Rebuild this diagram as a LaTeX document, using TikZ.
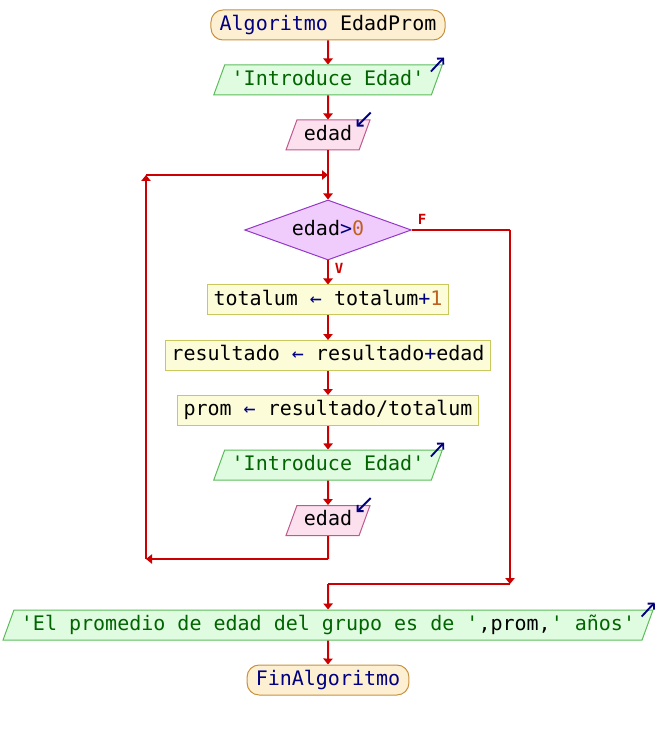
\documentclass[tikz,border=0pt]{standalone}
\usepackage{fontspec}
\setmonofont{DejaVu Sans Mono}
\usetikzlibrary{shapes.geometric,arrows.meta}

\definecolor{flujo}{HTML}{CC0000}
\definecolor{iniFill}{HTML}{FDF0D2}
\definecolor{iniDraw}{HTML}{C8903C}
\definecolor{salFill}{HTML}{E0FCE0}
\definecolor{salDraw}{HTML}{5CBC5C}
\definecolor{leeFill}{HTML}{FCE0EE}
\definecolor{leeDraw}{HTML}{C05890}
\definecolor{condFill}{HTML}{F0CCFC}
\definecolor{condDraw}{HTML}{9438C8}
\definecolor{asigFill}{HTML}{FCFCD8}
\definecolor{asigDraw}{HTML}{C8C85C}
\definecolor{txtAzul}{HTML}{000080}
\definecolor{txtVerde}{HTML}{006400}
\definecolor{txtNum}{HTML}{C06020}

\begin{document}
\begin{tikzpicture}
  [x=0.75pt,y=-0.75pt,font=\ttfamily\fontsize{15}{15}\selectfont,
   every node/.style={text height=11pt,text depth=3pt,inner ysep=4.25pt,line width=0.75pt},
   terminal/.style={draw=iniDraw,fill=iniFill,rounded corners=9pt,inner xsep=6.5pt},
   salida/.style={trapezium,trapezium left angle=70,trapezium right angle=110,
     draw=salDraw,fill=salFill,inner xsep=5.25pt},
   lectura/.style={salida,draw=leeDraw,fill=leeFill},
   asig/.style={draw=asigDraw,fill=asigFill,inner xsep=4.5pt},
   cond/.style={diamond,aspect=2.8,draw=condDraw,fill=condFill,inner sep=0pt,
     minimum width=125pt,minimum height=45pt},
   rotulo/.style={text=flujo,font=\ttfamily\bfseries\fontsize{10.5}{10.5}\selectfont,inner sep=0pt},
   linea/.style={draw=flujo,line width=1.5pt},
   flecha/.style={linea,-{Triangle[length=4.5pt,width=7pt]}},
   icono/.style={draw=txtAzul,line width=1.4pt,-{Straight Barb[length=3.2pt,width=6.5pt]}}]
  \useasboundingbox (0,0) rectangle (656,730);

  \node[terminal] (inicio) at (328,25)  {{\color{txtAzul}Algoritmo} EdadProm};
  \node[salida]   (sal1)   at (328,80)  {\color{txtVerde}'Introduce Edad'};
  \node[lectura]  (lee1)   at (328,135) {edad};
  \node[cond]     (cond)   at (328,230) {edad{\color{txtAzul}>}{\color{txtNum}0}};
  \node[asig]     (asig1)  at (328,300) {totalum {\color{txtAzul}←} totalum{\color{txtAzul}+}{\color{txtNum}1}};
  \node[asig]     (asig2)  at (328,355.5) {resultado {\color{txtAzul}←} resultado{\color{txtAzul}+}edad};
  \node[asig]     (asig3)  at (328,410.5) {prom {\color{txtAzul}←} resultado/totalum};
  \node[salida]   (sal2)   at (328,465) {\color{txtVerde}'Introduce Edad'};
  \node[lectura]  (lee2)   at (328,520.5) {edad};
  \node[salida]   (sal3)   at (328,625) {{\color{txtVerde}'El promedio de edad del grupo es de '},prom,{\color{txtVerde}' años'}};
  \node[terminal] (fin)    at (328,680) {\color{txtAzul}FinAlgoritmo};

  \node[rotulo] (lblV) at (339,268) {V};
  \node[rotulo] (lblF) at (422,219) {F};

  % esquinas del bucle y de la salida falsa
  \coordinate (j1) at (328,175);
  \coordinate (j2) at (146,175);
  \coordinate (j3) at (146,559);
  \coordinate (j4) at (328,559);
  \coordinate (f1) at (510,230);
  \coordinate (f2) at (510,584);
  \coordinate (f3) at (328,584);

  \draw[linea] (lee1) -- (j1);
  \draw[linea] (lee2) -- (j4);
  \draw[linea] (cond) -- (f1);
  \draw[linea] (f2) -- (f3);
  \foreach \from/\to in {inicio/sal1,sal1/lee1,j1/cond,cond/asig1,asig1/asig2,asig2/asig3,
      asig3/sal2,sal2/lee2,j4/j3,j3/j2,j2/j1,f1/f2,f3/sal3,sal3/fin}
    \draw[flecha] (\from) -- (\to);

  % iconos de entrada y salida
  \draw[icono] ([shift={(-12,7)}]sal1.top right corner) -- ++(13,-14);
  \draw[icono] ([shift={(-12,7)}]sal2.top right corner) -- ++(13,-14);
  \draw[icono] ([shift={(-12,7)}]sal3.top right corner) -- ++(13,-14);
  \draw[icono] ([shift={(0,-7)}]lee1.top right corner) -- ++(-14,14);
  \draw[icono] ([shift={(0,-7)}]lee2.top right corner) -- ++(-14,14);
\end{tikzpicture}
\end{document}
